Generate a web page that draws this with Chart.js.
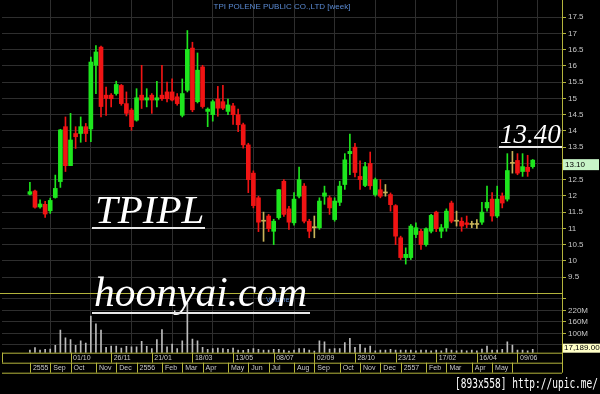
<!DOCTYPE html>
<html>
<head>
<meta charset="utf-8">
<script src="https://cdn.jsdelivr.net/npm/chart.js@4.4.1/dist/chart.umd.min.js"></script>
<style>
  html, body { margin: 0; padding: 0; background: #000; }
  #wrap { position: relative; width: 600px; height: 394px; overflow: hidden; background: #000; }
  canvas { display: block; }
  .mark { position: absolute; color: #fff; font-family: "Liberation Serif", serif; font-style: italic; white-space: nowrap; line-height: 1; }
  .uline { position: absolute; height: 2px; background: #e8e8e8; }
  .src { position: absolute; left: 455px; top: 375px; color: #fff; font-family: "DejaVu Sans Mono", monospace; font-size: 9.5px; white-space: nowrap; transform: scaleY(1.4); transform-origin: left top; }
</style>
</head>
<body>
<div id="wrap">
  <canvas id="myChart" width="600" height="394"></canvas>
  <div class="mark" style="left:95px; top:189px; font-size:41px;">TPIPL</div>
  <div class="uline" style="left:92px; top:227px; width:113px;"></div>
  <div class="mark" style="left:94px; top:272px; font-size:41.5px;">hoonyai.com</div>
  <div class="uline" style="left:92px; top:312px; width:218px;"></div>
  <div class="mark" style="left:500px; top:121px; font-size:27px;">13.40</div>
  <div class="uline" style="left:499px; top:146px; width:63px;"></div>
  <div class="src">[893x558] http://upic.me/</div>
</div>
<script>
/* Weekly candles, TPIPL, Aug 2555 - Jun 2557 */
const open = [12.05, 12.15, 11.66, 11.74, 11.54, 11.95, 12.44, 14.13, 12.93, 13.92,
  13.92, 14.13, 14.06, 16.02, 16.58, 15.1, 15.1, 15.15, 15.4, 14.84,
  14.64, 14.33, 15.1, 14.95, 15.1, 14.95, 15.1, 15.2, 15.2, 15.05,
  14.48, 15.25, 16.55, 14.9, 15.97, 14.6, 14.5, 14.98, 14.9, 14.6,
  14.77, 14.5, 14.19, 13.57, 12.7, 11.94, 11.22, 11.38, 10.91, 11.33,
  12.45, 11.6, 11.17, 11.99, 12.3, 11.22, 11.02, 11.02, 11.99, 11.94,
  11.27, 11.8, 12.35, 13.3, 13.5, 12.6, 12.32, 13.0, 12.04, 12.19,
  12.09, 12.04, 11.7, 10.71, 10.1, 10.1, 10.81, 10.91, 10.5, 10.91,
  11.5, 10.91, 11.02, 11.78, 11.22, 11.22, 11.17, 11.12, 11.12, 11.19,
  11.63, 11.9, 11.38, 11.99, 11.9, 13.0, 13.09, 12.75, 12.88, 12.9];
const high = [12.42, 12.18, 11.88, 11.83, 11.93, 12.64, 14.05, 14.43, 14.54, 14.13,
  14.43, 14.23, 16.27, 16.63, 16.61, 15.35, 15.15, 15.53, 15.43, 15.2,
  14.69, 15.3, 16.02, 15.3, 15.15, 15.53, 16.02, 15.5, 15.6, 15.15,
  15.6, 17.09, 16.73, 16.4, 16.02, 14.71, 14.95, 15.37, 15.4, 14.98,
  14.85, 14.67, 14.24, 13.62, 12.77, 11.99, 11.5, 11.43, 11.28, 12.2,
  12.5, 11.68, 12.1, 12.89, 12.38, 11.28, 11.38, 11.94, 12.3, 12.0,
  11.94, 12.45, 13.3, 13.9, 13.62, 13.08, 13.03, 13.35, 12.55, 12.5,
  12.35, 12.09, 11.73, 10.76, 10.4, 11.12, 11.17, 10.97, 11.02, 11.43,
  11.53, 11.12, 11.6, 11.84, 11.53, 11.33, 11.38, 11.22, 11.27, 11.8,
  12.3, 12.1, 12.3, 12.09, 13.3, 13.37, 13.3, 13.3, 13.25, 13.12];
const low = [12.03, 11.62, 11.62, 11.34, 11.46, 11.93, 12.26, 12.75, 12.93, 13.46,
  13.65, 13.67, 13.67, 15.15, 14.43, 14.48, 14.74, 15.1, 14.79, 14.46,
  14.02, 14.3, 14.69, 14.74, 14.54, 14.74, 14.94, 14.89, 14.92, 14.79,
  14.43, 15.2, 14.59, 14.86, 14.7, 14.13, 14.3, 14.45, 14.65, 14.5,
  14.2, 13.98, 13.47, 12.1, 11.63, 10.9, 10.6, 10.9, 10.5, 11.28,
  11.37, 10.97, 11.1, 11.94, 11.17, 10.71, 10.71, 10.97, 11.74, 11.43,
  11.22, 11.7, 12.2, 12.65, 12.58, 12.2, 12.28, 12.2, 11.99, 11.94,
  11.99, 11.53, 10.5, 10.04, 9.9, 10.04, 10.71, 10.35, 10.45, 10.86,
  10.9, 10.71, 10.91, 11.17, 11.07, 10.91, 11.02, 11.02, 11.0, 11.12,
  11.53, 11.22, 11.33, 11.63, 11.84, 12.7, 12.65, 12.6, 12.6, 12.85];
const close = [12.13, 11.65, 11.75, 11.44, 11.86, 12.23, 14.03, 12.93, 13.72, 13.82,
  14.13, 13.92, 16.12, 16.43, 14.75, 15.0, 14.99, 15.43, 14.84, 14.54,
  14.13, 15.02, 14.95, 15.02, 14.95, 15.02, 14.99, 14.99, 14.95, 14.84,
  15.15, 16.51, 14.65, 15.87, 14.75, 14.67, 14.9, 14.7, 14.7, 14.8,
  14.5, 14.19, 13.57, 12.5, 11.7, 11.19, 11.22, 10.99, 11.22, 12.19,
  11.43, 11.19, 11.9, 12.5, 11.22, 10.91, 11.02, 11.84, 12.09, 11.63,
  11.84, 12.3, 13.11, 13.37, 12.72, 12.5, 12.9, 12.31, 12.5, 11.99,
  12.09, 11.73, 10.76, 10.1, 10.2, 11.07, 11.02, 10.5, 10.99, 11.4,
  10.99, 11.02, 11.53, 11.22, 11.22, 11.07, 11.12, 11.12, 11.12, 11.5,
  11.8, 11.38, 11.9, 11.78, 12.78, 13.0, 12.7, 12.9, 12.75, 13.1];
/* volume, millions */
const volume = [14, 26, 14, 17, 19, 38, 117, 77, 68, 38,
  61, 50, 190, 150, 117, 28, 35, 35, 24, 33,
  30, 30, 59, 33, 21, 68, 120, 31, 45, 21,
  61, 257, 71, 61, 28, 17, 21, 24, 21, 17,
  24, 14, 12, 17, 21, 17, 14, 14, 17, 17,
  14, 9, 14, 22, 21, 14, 9, 61, 57, 19,
  22, 22, 52, 75, 28, 43, 24, 35, 10, 14,
  14, 17, 14, 14, 14, 14, 10, 14, 14, 10,
  14, 10, 21, 14, 10, 14, 10, 14, 10, 19,
  35, 14, 14, 17, 57, 40, 14, 14, 10, 17.189];

const priceTicks = [9.5, 10, 10.5, 11, 11.5, 12, 12.5, 13, 13.5, 14, 14.5, 15, 15.5, 16, 16.5, 17, 17.5];
const volTicks = [40, 100, 160, 220, 280];
const volTickLabels = ['', '100M', '160M', '220M', ''];
const dateIdx = [8, 16, 24, 32, 40, 48, 56, 64, 72, 80, 88, 96];
const dateLabels = ['01/10', '26/11', '21/01', '18/03', '13/05', '08/07', '02/09', '28/10', '23/12', '17/02', '16/04', '09/06'];
const monthIdx = [0, 4, 8, 13, 17, 21, 26, 30, 34, 39, 43, 47, 52, 56, 61, 65, 69, 73, 78, 82, 87, 91, 95];
const monthLabels = ['2555', 'Sep', 'Oct', 'Nov', 'Dec', '2556', 'Feb', 'Mar', 'Apr', 'May', 'Jun', 'Jul', 'Aug',
  'Sep', 'Oct', 'Nov', 'Dec', '2557', 'Feb', 'Mar', 'Apr', 'May', ''];

const GREEN = '#1ee61e';
const RED = '#f01414';
const DOJI = '#c8b45a';
const GRID = '#2e2e2e';
const YELLOW = '#b4b43c';
const TEXT = '#c8c8c8';

const idx = open.map((_, i) => i);
const candleColor = idx.map(i => close[i] > open[i] ? GREEN : (close[i] < open[i] ? RED : DOJI));

/* Draws the frame, date rows, title and value boxes on top of the chart. */
const decor = {
  id: 'decor',
  beforeDraw(chart) {
    const ctx = chart.ctx;
    ctx.save();
    ctx.fillStyle = '#000';
    ctx.fillRect(0, 0, chart.width, chart.height);
    ctx.restore();
  },
  afterDraw(chart) {
    const ctx = chart.ctx;
    const xs = chart.scales.x;
    const ys = chart.scales.y;
    const yv = chart.scales.yv;
    const area = chart.chartArea;
    const r1 = area.bottom, r2 = r1 + 10, r3 = r2 + 10;

    ctx.save();
    ctx.strokeStyle = YELLOW;
    ctx.lineWidth = 1;
    ctx.beginPath();
    // panel separator and right axis line
    ctx.moveTo(0, Math.round(yv.top) + 0.5); ctx.lineTo(area.right, Math.round(yv.top) + 0.5);
    ctx.moveTo(area.right + 0.5, 0); ctx.lineTo(area.right + 0.5, r3);
    // date rows
    ctx.moveTo(area.left, r1 + 0.5); ctx.lineTo(area.right, r1 + 0.5);
    ctx.moveTo(area.left, r2 + 0.5); ctx.lineTo(area.right, r2 + 0.5);
    ctx.moveTo(area.left, r3 + 0.5); ctx.lineTo(area.right, r3 + 0.5);
    ctx.moveTo(area.left + 0.5, r1); ctx.lineTo(area.left + 0.5, r2);
    dateIdx.forEach(v => {
      const px = Math.round(xs.getPixelForValue(v)) + 0.5;
      ctx.moveTo(px, r1); ctx.lineTo(px, r2);
    });
    monthIdx.forEach(v => {
      const px = Math.round(xs.getPixelForValue(v)) + 0.5;
      ctx.moveTo(px, r2); ctx.lineTo(px, r3);
    });
    ctx.stroke();

    ctx.fillStyle = TEXT;
    ctx.font = '7px "Liberation Sans", Arial, sans-serif';
    ctx.textBaseline = 'middle';
    ctx.textAlign = 'left';
    dateIdx.forEach((v, k) => ctx.fillText(dateLabels[k], xs.getPixelForValue(v) + 2.5, r1 + 5.5));
    monthIdx.forEach((v, k) => ctx.fillText(monthLabels[k], xs.getPixelForValue(v) + 3, r2 + 5.5));

    // title
    ctx.fillStyle = '#5a8ad2';
    ctx.font = '8px "Liberation Sans", Arial, sans-serif';
    ctx.textAlign = 'center';
    ctx.fillText('TPI POLENE PUBLIC CO.,LTD [week]', (area.left + area.right) / 2, 7);
    ctx.textAlign = 'left';
    ctx.font = '7px "Liberation Sans", Arial, sans-serif';
    ctx.fillText('Volume', 266, yv.top + 7);

    // last price box
    const last = close[close.length - 1];
    const py = ys.getPixelForValue(last) + 4;
    ctx.fillStyle = '#c8f5c8';
    ctx.fillRect(area.right + 1, py - 5, 36, 11);
    ctx.fillStyle = '#000';
    ctx.font = '8px "Liberation Sans", Arial, sans-serif';
    ctx.fillText(last.toFixed(2), area.right + 3, py + 0.5);

    // last volume box
    const lastVol = volume[volume.length - 1] * 1000;
    ctx.fillStyle = '#ffffc8';
    ctx.fillRect(area.right + 1, r1 - 9, 38, 9);
    ctx.fillStyle = '#000';
    ctx.fillText(lastVol.toLocaleString('en-US', { minimumFractionDigits: 2, maximumFractionDigits: 2 }), area.right + 2, r1 - 4.5);
    ctx.restore();
  }
};

const ctx = document.getElementById('myChart');
new Chart(ctx, {
  type: 'bar',
  data: {
    datasets: [
      {
        label: 'body',
        data: idx.map(i => ({ x: i, y: [open[i], close[i]] })),
        yAxisID: 'y',
        backgroundColor: candleColor,
        barThickness: 4,
        minBarLength: 1,
        grouped: false,
        order: 0
      },
      {
        label: 'wick',
        data: idx.map(i => ({ x: i, y: [low[i], high[i]] })),
        yAxisID: 'y',
        backgroundColor: candleColor,
        barThickness: 1,
        grouped: false,
        order: 1
      },
      {
        label: 'volume',
        data: idx.map(i => ({ x: i, y: volume[i] })),
        yAxisID: 'yv',
        backgroundColor: '#bcbcbc',
        barThickness: 1,
        grouped: false,
        order: 2
      }
    ]
  },
  options: {
    responsive: false,
    animation: false,
    devicePixelRatio: 1,
    layout: { padding: { left: 2, right: 0, top: 0, bottom: 41.3 } },
    plugins: { legend: { display: false }, tooltip: { enabled: false } },
    scales: {
      x: {
        type: 'linear',
        min: -0.9,
        max: 100.17,
        afterBuildTicks: s => { s.ticks = dateIdx.map(v => ({ value: v })); },
        ticks: { display: false, autoSkip: false },
        grid: { color: GRID, drawTicks: false },
        border: { display: false },
        afterFit: s => { s.height = 0; }
      },
      y: {
        type: 'linear',
        position: 'right',
        stack: 'main',
        stackWeight: 293,
        min: 9.01,
        max: 18.03,
        afterBuildTicks: s => { s.ticks = priceTicks.map(v => ({ value: v })); },
        ticks: {
          color: TEXT,
          padding: 2,
          autoSkip: false,
          font: { size: 8, family: '"Liberation Sans", Arial, sans-serif' },
          callback: v => String(v)
        },
        grid: { color: GRID, tickColor: YELLOW, tickLength: 4 },
        border: { color: YELLOW },
        afterFit: s => { s.width = 38; s.paddingTop = 0; s.paddingBottom = 0; }
      },
      yv: {
        type: 'linear',
        position: 'right',
        stack: 'main',
        stackWeight: 59.7,
        min: 0,
        max: 310,
        afterBuildTicks: s => { s.ticks = volTicks.map(v => ({ value: v })); },
        ticks: {
          color: TEXT,
          padding: 2,
          autoSkip: false,
          font: { size: 8, family: '"Liberation Sans", Arial, sans-serif' },
          callback: (v, k) => volTickLabels[k]
        },
        grid: { color: GRID, tickColor: YELLOW, tickLength: 4 },
        border: { color: YELLOW },
        afterFit: s => { s.width = 38; s.paddingTop = 0; s.paddingBottom = 0; }
      }
    }
  },
  plugins: [decor]
});
</script>
</body>
</html>
